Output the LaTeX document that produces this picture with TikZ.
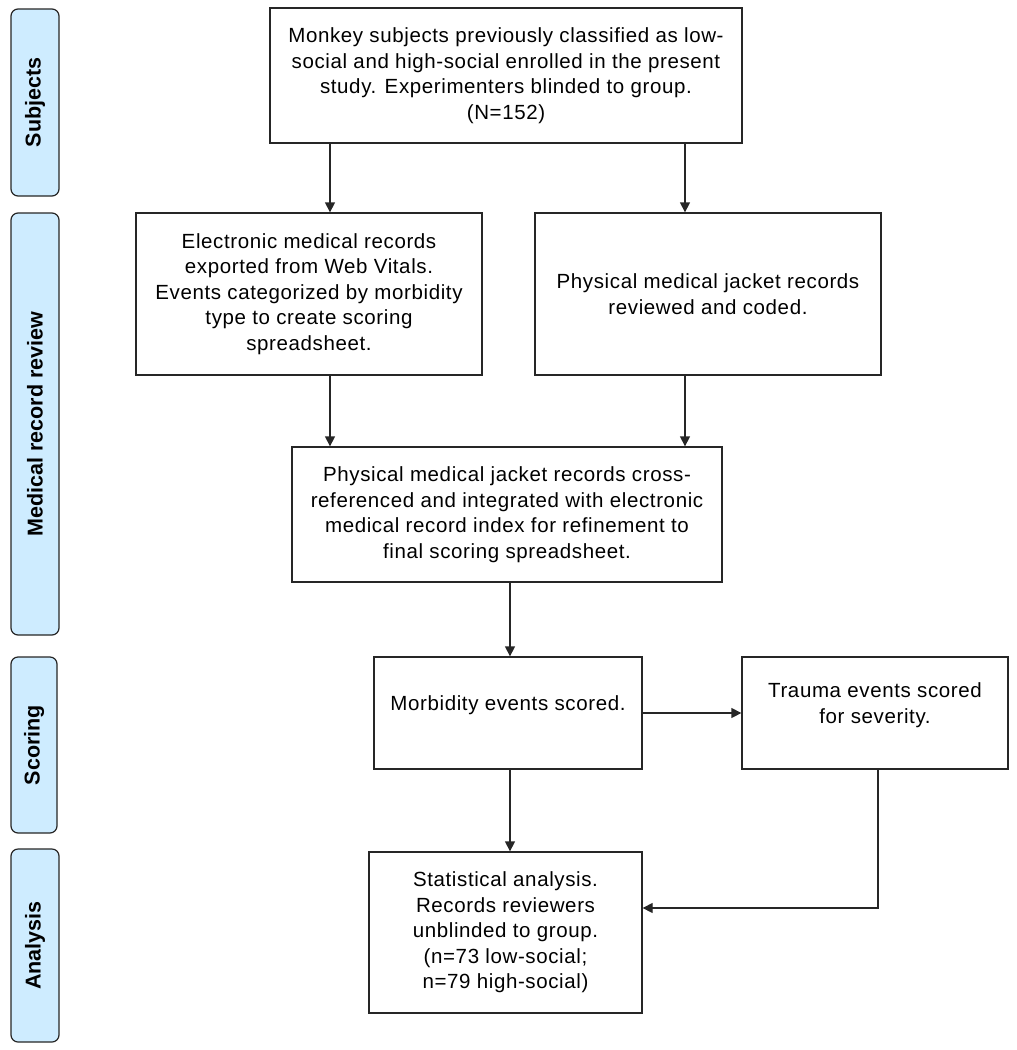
\documentclass[tikz,border=0pt]{standalone}
\usepackage{fontspec}
\setmainfont{Liberation Sans}
\newfontfamily\boxfont[LetterSpace=3]{Liberation Sans}
\usetikzlibrary{arrows.meta,positioning}
\definecolor{lanefill}{RGB}{206,236,255}
\definecolor{inkline}{RGB}{38,38,38}
\tikzset{
    stage/.style={draw=inkline, rounded corners=7pt, fill=lanefill, line width=1.2pt, rotate=90, inner sep=0pt, font=\bfseries\fontsize{21.5}{24}\selectfont},
    block/.style={draw=inkline, line width=1.3pt, align=center, inner sep=0pt, font=\boxfont\fontsize{20.5}{25.5}\selectfont},
    flow/.style={-{Triangle[length=10pt, width=10pt]}, line width=1.3pt, draw=inkline}
}

\begin{document}
\begin{tikzpicture}[x=1pt, y=-1pt]
    \useasboundingbox (0,0) rectangle (1017,1050);

    \node[stage, minimum width=187pt, minimum height=48pt] (subjects) at (35,102.5) {Subjects};
    \node[stage, minimum width=422pt, minimum height=48pt] (review) at (35,424) {Medical record review};
    \node[stage, minimum width=176pt, minimum height=46pt] (scoring) at (34,745) {Scoring};
    \node[stage, minimum width=193pt, minimum height=48pt] (analysis) at (35,945.5) {Analysis};

    \node[block, minimum width=472pt, minimum height=135pt] (top) at (506,75.5)
        {Monkey subjects previously classified as low-\\social and high-social enrolled in the present\\study. Experimenters blinded to group.\\(N=152)};
    \node[block, minimum width=346pt, minimum height=162pt] (elec) at (309,294)
        {Electronic medical records\\exported from Web Vitals.\\Events categorized by morbidity\\type to create scoring\\spreadsheet.};
    \node[block, minimum width=346pt, minimum height=162pt] (phys) at (708,294)
        {Physical medical jacket records\\reviewed and coded.};
    \node[block, minimum width=430pt, minimum height=135pt] (cross) at (507,514.5)
        {Physical medical jacket records cross-\\referenced and integrated with electronic\\medical record index for refinement to\\final scoring spreadsheet.};
    \node[block, minimum width=268pt, minimum height=112pt, text depth=20pt] (morb) at (508,713)
        {Morbidity events scored.};
    \node[block, minimum width=266pt, minimum height=112pt, text depth=20pt] (trauma) at (875,713)
        {Trauma events scored\\for severity.};
    \node[block, minimum width=273pt, minimum height=161pt] (stats) at (505.5,932.5)
        {Statistical analysis.\\Records reviewers\\unblinded to group.\\(n=73 low-social;\\n=79 high-social)};

    \coordinate (colL) at (330,0);
    \coordinate (colR) at (685,0);
    \coordinate (colM) at (510,0);
    \coordinate (back) at (878,908);

    \draw[flow] (top.south -| colL) -- (elec.north -| colL);
    \draw[flow] (top.south -| colR) -- (phys.north -| colR);
    \draw[flow] (elec.south -| colL) -- (cross.north -| colL);
    \draw[flow] (phys.south -| colR) -- (cross.north -| colR);
    \draw[flow] (cross.south -| colM) -- (morb.north -| colM);
    \draw[flow] (morb.east) -- (trauma.west);
    \draw[flow] (morb.south -| colM) -- (stats.north -| colM);
    \draw[flow] (trauma.south -| back) -- (back) -- (stats.east |- back);
\end{tikzpicture}
\end{document}
